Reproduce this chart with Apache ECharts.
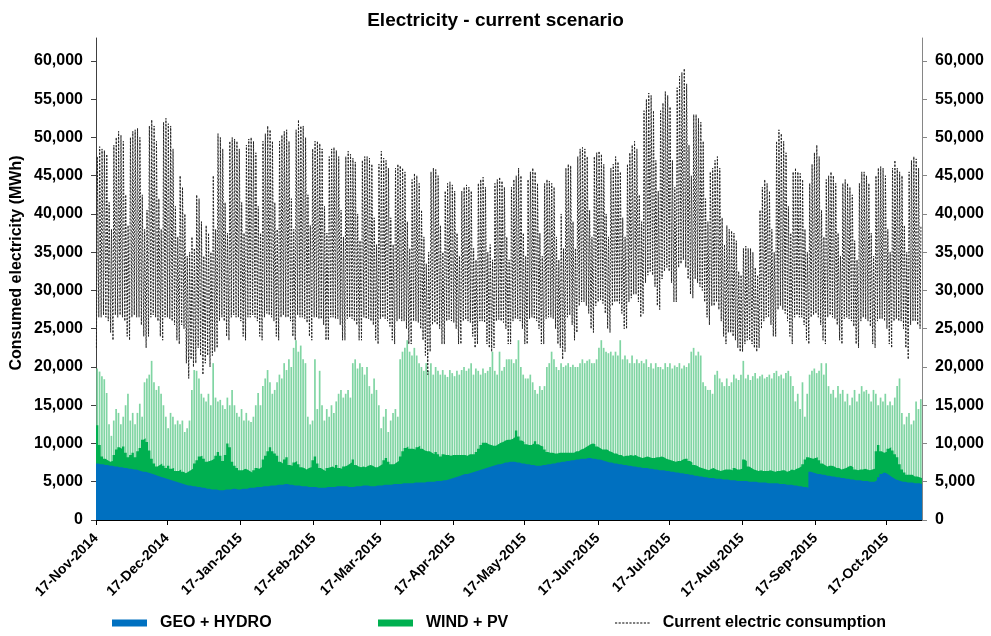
<!DOCTYPE html>
<html>
<head>
<meta charset="utf-8">
<script src="https://cdn.jsdelivr.net/npm/echarts@6/dist/echarts.min.js"></script>
<style>
html,body{margin:0;padding:0;background:#fff;}
#chart{width:991px;height:636px;}
</style>
</head>
<body>
<div id="chart"></div>
<script>
// ---------------- DATA ----------------
const chartTitle = 'Electricity - current scenario';
const yAxisTitle = 'Consumed electricity (MWh)';
const seriesNames = ['GEO + HYDRO', 'WIND + PV', 'Current electric consumption'];
const firstDay = '17-Nov-2014';
const dayCount = 349; // 17-Nov-2014 .. 31-Oct-2015
const xTickLabels = ['17-Nov-2014','17-Dec-2014','17-Jan-2015','17-Feb-2015','17-Mar-2015','17-Apr-2015',
  '17-May-2015','17-Jun-2015','17-Jul-2015','17-Aug-2015','17-Sep-2015','17-Oct-2015'];
const yTickValues = [0,5000,10000,15000,20000,25000,30000,35000,40000,45000,50000,55000,60000];
const yAxisMax = 63000;

// daily values in thousand MWh, one row per week (Mon..Sun)
// daily peak of current electric consumption
const consumptionPeak = [
 47.5,48.8,48.5,48.3,47.8,41.5,38.0,
 49.0,50.0,50.8,50.3,49.5,42.5,38.5,
 50.0,50.8,51.0,51.2,50.0,42.5,38.0,
 40.5,51.5,52.3,51.5,49.5,42.0,38.0,
 52.0,52.5,51.8,51.5,48.5,41.0,37.0,
 45.0,43.5,40.0,34.5,35.0,37.0,35.5,
 42.5,42.0,39.0,34.5,38.5,37.5,35.0,
 45.0,38.0,50.5,50.0,48.5,41.5,37.5,
 49.5,50.0,49.8,49.5,48.5,41.5,37.5,
 49.0,49.8,50.0,49.5,48.0,41.0,37.5,
 49.5,50.5,51.5,51.0,49.5,41.5,38.0,
 49.5,50.3,50.8,51.0,49.5,42.0,38.0,
 51.0,52.3,51.5,51.5,50.0,42.5,38.5,
 48.5,49.5,49.5,49.2,48.5,41.0,37.5,
 47.5,48.5,48.7,48.3,47.5,40.5,37.0,
 47.5,48.2,47.8,47.3,46.8,40.0,36.5,
 47.0,47.5,47.5,47.3,46.5,39.5,36.0,
 46.5,48.2,47.3,47.0,46.0,39.5,36.0,
 46.0,46.5,46.3,46.0,45.5,39.0,35.5,
 44.5,45.3,45.0,44.0,40.5,37.0,33.5,
 35.0,45.5,46.0,45.8,45.0,38.5,35.0,
 43.0,44.0,44.2,43.8,43.0,37.5,34.5,
 43.0,43.5,43.8,43.5,43.0,35.5,34.0,
 44.0,44.5,44.8,43.5,35.0,36.0,34.0,
 44.0,44.5,44.8,44.3,43.5,37.0,34.0,
 43.5,44.5,45.0,46.0,45.0,37.5,34.5,
 44.5,45.5,46.0,45.5,44.0,37.5,34.5,
 44.0,44.5,44.3,44.0,43.5,37.0,34.0,
 40.0,35.5,46.0,46.5,46.3,39.0,35.5,
 47.5,48.5,48.7,48.5,47.5,40.5,37.0,
 47.5,48.0,48.2,47.8,46.5,40.0,37.0,
 46.0,46.5,47.5,46.8,45.5,39.5,37.0,
 46.5,48.0,49.0,49.5,48.5,42.5,39.0,
 53.5,55.0,55.8,55.5,53.5,47.0,43.0,
 53.5,54.5,56.0,55.5,54.0,47.0,43.5,
 56.5,58.0,58.5,59.0,57.0,49.0,45.0,
 53.0,53.0,52.5,52.0,49.5,42.0,39.0,
 45.5,46.0,47.0,47.5,46.0,39.5,36.0,
 38.5,38.0,37.8,37.5,36.5,32.5,32.0,
 35.5,35.8,35.5,35.5,35.0,33.0,32.0,
 40.5,43.5,44.5,44.0,43.0,38.0,35.0,
 49.5,51.0,50.5,49.5,48.0,41.0,37.5,
 45.5,46.0,45.5,45.3,44.5,38.0,35.0,
 44.0,46.5,48.0,49.0,47.5,40.5,37.0,
 44.5,45.0,45.5,45.0,44.0,37.5,34.5,
 44.0,44.5,44.0,43.5,42.5,36.5,34.0,
 44.0,45.5,45.5,45.0,44.0,37.5,34.5,
 45.0,46.0,46.2,46.0,45.0,38.0,35.0,
 46.0,47.0,46.0,45.5,45.0,38.5,35.0,
 45.5,47.0,47.5,47.2,46.0,38.5
];
// night minimum of current electric consumption
const consumptionLow = [
 22.5,26.5,26.5,26.8,26.5,26.0,24.5,
 23.5,26.8,26.5,26.8,26.5,26.0,24.0,
 23.5,26.5,26.8,26.5,26.5,25.5,24.0,
 22.5,24.0,26.5,26.8,26.5,26.0,24.0,
 23.5,26.5,26.5,26.3,26.0,25.5,23.5,
 23.0,25.5,25.0,20.5,18.5,21.0,20.0,
 20.5,22.5,21.5,19.0,20.5,21.5,20.0,
 21.5,22.0,22.5,26.0,26.5,26.0,24.0,
 23.5,26.5,26.8,26.5,26.5,26.0,24.0,
 23.5,26.5,26.5,26.8,26.5,26.0,24.0,
 23.5,26.5,27.0,26.8,26.5,26.0,24.0,
 23.5,26.5,26.8,26.5,26.5,26.0,24.0,
 23.5,26.8,26.5,26.5,26.3,25.8,24.0,
 23.5,26.5,26.5,26.3,26.3,25.5,23.5,
 23.5,26.5,26.5,26.3,26.3,25.5,23.5,
 23.5,26.3,26.5,26.3,26.0,25.5,23.5,
 23.5,26.5,26.3,26.3,26.0,25.5,23.5,
 23.0,26.3,26.5,26.3,26.0,25.3,23.5,
 23.0,26.0,26.3,26.0,26.0,25.0,23.0,
 23.0,26.0,26.0,25.8,25.0,23.5,21.5,
 19.0,22.0,25.5,25.8,25.5,25.0,23.0,
 23.0,26.0,26.2,26.0,25.8,25.0,23.0,
 23.0,26.0,26.2,26.0,25.8,24.0,22.5,
 23.0,26.0,26.0,25.8,23.0,22.5,22.0,
 22.5,26.0,26.2,26.0,25.8,25.0,23.0,
 23.0,26.0,26.3,26.3,26.0,25.0,23.0,
 23.0,26.3,26.5,26.3,26.0,25.0,23.0,
 23.0,26.3,26.5,26.5,26.3,25.0,23.0,
 22.5,21.0,22.0,26.5,26.8,25.5,23.5,
 24.5,28.0,28.5,28.5,28.0,27.0,25.0,
 24.5,28.0,28.5,28.8,28.3,27.0,25.0,
 24.5,28.0,28.5,28.5,28.3,27.0,25.0,
 25.0,28.5,29.0,29.5,29.5,28.5,26.5,
 27.0,31.0,32.0,32.5,32.0,30.5,28.0,
 27.5,31.5,32.5,33.0,32.5,31.0,28.5,
 28.5,33.0,33.5,34.0,33.0,31.5,29.5,
 29.0,31.5,31.0,30.5,30.0,28.5,26.5,
 25.5,28.0,28.0,28.5,27.5,26.0,24.0,
 23.0,24.5,24.5,24.0,23.5,22.5,22.0,
 22.0,23.0,23.5,23.5,23.0,22.5,22.0,
 22.5,25.0,26.0,26.5,26.5,25.5,24.0,
 24.0,27.5,28.0,27.5,27.0,26.0,24.0,
 23.0,26.5,26.8,26.5,26.5,25.5,23.5,
 23.0,26.5,26.8,27.0,26.5,25.5,23.5,
 23.0,26.5,26.8,26.5,26.3,25.5,23.5,
 23.0,26.3,26.5,26.3,26.0,25.3,23.0,
 22.5,26.0,26.5,26.3,26.0,25.3,23.0,
 22.5,26.0,26.3,26.3,26.0,25.0,23.0,
 22.5,26.0,26.3,26.0,26.0,25.0,22.5,
 21.0,25.5,26.0,26.0,25.5,25.0
];
// GEO + HYDRO daily level
const geoHydro = [
 7.4,7.3,7.3,7.2,7.2,7.1,7.1,
 7.0,7.0,6.9,6.9,6.8,6.8,6.7,
 6.7,6.6,6.6,6.5,6.4,6.3,6.3,
 6.2,6.1,6.0,5.9,5.8,5.7,5.6,
 5.5,5.4,5.3,5.2,5.1,5.0,4.9,
 4.8,4.7,4.6,4.5,4.5,4.4,4.4,
 4.3,4.3,4.2,4.2,4.1,4.1,4.0,
 4.0,4.0,3.9,3.9,3.9,4.0,4.0,
 4.0,4.1,4.1,4.0,4.0,4.1,4.1,
 4.1,4.2,4.2,4.2,4.3,4.3,4.3,
 4.4,4.4,4.4,4.5,4.5,4.5,4.6,
 4.6,4.6,4.7,4.7,4.6,4.6,4.5,
 4.5,4.5,4.4,4.4,4.4,4.3,4.3,
 4.3,4.3,4.2,4.2,4.2,4.2,4.3,
 4.3,4.3,4.3,4.4,4.4,4.4,4.4,
 4.4,4.3,4.3,4.3,4.4,4.4,4.4,
 4.5,4.5,4.5,4.4,4.4,4.4,4.5,
 4.5,4.5,4.6,4.6,4.6,4.6,4.7,
 4.7,4.7,4.7,4.8,4.8,4.8,4.8,
 4.8,4.9,4.9,4.9,4.9,4.9,5.0,
 5.0,5.0,5.0,5.1,5.1,5.1,5.2,
 5.2,5.3,5.4,5.5,5.6,5.7,5.8,
 5.9,6.0,6.0,6.1,6.2,6.3,6.4,
 6.5,6.6,6.7,6.8,6.9,7.0,7.1,
 7.2,7.3,7.3,7.4,7.5,7.5,7.6,
 7.6,7.6,7.5,7.5,7.4,7.4,7.3,
 7.3,7.2,7.2,7.1,7.1,7.1,7.2,
 7.2,7.3,7.3,7.4,7.4,7.5,7.5,
 7.6,7.6,7.7,7.7,7.8,7.8,7.9,
 7.9,8.0,8.0,8.0,8.1,8.1,8.0,
 8.0,7.9,7.9,7.8,7.7,7.6,7.5,
 7.5,7.4,7.4,7.3,7.3,7.2,7.2,
 7.1,7.1,7.0,7.0,6.9,6.9,6.8,
 6.8,6.8,6.7,6.7,6.6,6.6,6.5,
 6.5,6.5,6.4,6.4,6.3,6.3,6.2,
 6.2,6.1,6.1,6.0,6.0,5.9,5.9,
 5.8,5.8,5.7,5.7,5.6,5.6,5.5,
 5.5,5.5,5.4,5.4,5.4,5.3,5.3,
 5.3,5.2,5.2,5.2,5.1,5.1,5.1,
 5.1,5.1,5.0,5.0,5.0,5.0,4.9,
 4.9,4.9,4.9,4.8,4.8,4.8,4.8,
 4.8,4.7,4.7,4.7,4.6,4.6,4.6,
 4.5,4.5,4.4,4.4,4.3,4.3,4.2,
 6.3,6.2,6.1,6.0,6.0,5.9,5.9,
 5.8,5.8,5.7,5.7,5.6,5.6,5.5,
 5.5,5.4,5.4,5.3,5.3,5.2,5.2,
 5.2,5.1,5.1,5.1,5.0,5.0,5.0,
 5.2,5.6,6.0,6.2,6.1,5.9,5.7,
 5.5,5.3,5.2,5.1,5.0,5.0,4.9,
 4.9,4.9,4.8,4.8,4.8,4.7
];
// WIND + PV at night (wind only)
const windPvNight = [
 5.0,2.5,1.0,0.8,0.6,0.5,0.6,
 1.5,2.2,2.6,2.4,2.8,2.0,1.5,
 1.8,2.2,1.6,2.5,3.0,4.2,4.4,
 4.0,3.0,2.0,1.5,1.2,1.5,1.8,
 1.6,1.4,1.8,1.5,1.7,1.4,1.5,
 1.8,1.6,1.5,1.8,2.0,2.3,3.0,
 3.5,4.0,4.2,3.8,3.5,3.6,3.8,
 4.0,4.4,5.0,4.5,3.8,4.5,6.0,
 5.5,3.5,3.0,2.8,2.5,2.4,2.6,
 2.5,2.2,2.0,2.3,2.5,2.4,2.6,
 3.5,4.0,4.6,5.0,4.5,4.2,3.8,
 3.0,2.8,3.2,3.5,2.6,2.5,3.0,
 3.2,2.8,2.5,2.4,2.2,2.5,2.6,
 3.5,4.0,3.2,2.6,2.4,2.2,2.5,
 2.6,2.7,2.5,2.8,2.4,2.3,2.6,
 2.7,3.0,3.2,3.6,2.8,2.6,2.5,
 2.5,2.4,2.6,2.8,2.7,2.5,2.4,
 2.6,2.8,3.2,3.5,3.0,2.7,2.6,
 2.8,3.0,3.6,4.2,4.6,4.8,4.5,
 4.5,4.3,4.6,4.8,4.4,4.2,4.0,
 4.0,3.8,3.6,3.8,3.5,3.2,3.4,
 3.3,3.2,3.0,3.0,2.9,2.8,2.7,
 2.6,2.5,2.4,2.5,2.4,2.3,2.5,
 2.8,3.2,3.4,3.3,3.0,2.8,2.6,
 2.5,2.6,2.8,2.8,2.9,3.0,2.9,
 3.0,3.2,4.2,3.4,3.0,2.8,2.6,
 2.5,2.6,2.8,3.2,2.8,2.6,2.4,
 2.0,1.6,1.5,1.4,1.3,1.2,1.3,
 1.2,1.2,1.1,1.1,1.0,1.0,1.1,
 1.1,1.2,1.3,1.5,1.6,1.8,2.0,
 1.9,1.7,1.5,1.4,1.5,1.6,1.5,
 1.4,1.3,1.3,1.2,1.2,1.1,1.2,
 1.3,1.4,1.4,1.5,1.4,1.3,1.3,
 1.4,1.5,1.5,1.4,1.5,1.6,1.7,
 1.8,1.7,1.6,1.5,1.5,1.4,1.4,
 1.5,1.6,1.8,2.0,2.0,1.8,1.6,
 1.4,1.3,1.2,1.1,1.1,1.0,1.0,
 1.2,1.3,1.2,1.1,1.0,1.2,1.3,
 1.3,1.4,1.3,1.6,1.5,1.5,1.6,
 2.8,2.6,2.0,1.8,1.6,1.5,1.5,
 1.6,1.5,1.5,1.6,1.7,1.6,1.5,
 1.6,1.7,1.8,1.8,1.7,1.8,2.0,
 2.0,2.2,2.4,2.6,3.0,3.6,4.0,
 1.8,1.8,2.0,2.2,1.8,1.5,1.3,
 1.2,1.3,1.4,1.3,1.2,1.2,1.1,
 1.2,1.4,1.6,1.8,1.6,1.4,1.3,
 1.4,1.5,1.6,1.5,1.5,1.6,1.7,
 3.8,4.2,3.0,2.6,2.8,3.4,3.8,
 3.6,3.3,3.0,2.2,1.6,1.2,1.0,
 1.0,1.0,0.9,0.9,0.8,0.8
];
// WIND + PV at the midday peak
const windPvMidday = [
 12.4,12.1,11.5,11.2,9.4,5.4,3.9,
 6.0,7.5,7.1,5.6,6.7,8.2,9.8,
 6.3,7.4,5.9,7.5,8.8,7.2,11.7,
 12.3,12.9,14.8,12.1,11.2,11.8,10.9,
 9.5,8.1,6.7,8.8,8.4,7.5,8.1,
 7.7,8.3,6.9,7.5,8.5,12.6,15.2,
 15.2,14.2,12.3,11.8,11.4,12.4,11.0,
 16.5,12.0,11.6,11.8,11.1,10.5,12.0,
 11.0,12.9,10.9,10.0,9.5,10.4,8.9,
 9.9,8.8,8.6,9.3,10.7,12.3,10.7,
 13.1,14.1,15.2,13.5,12.0,12.5,13.4,
 14.4,13.9,15.8,14.9,16.4,15.4,18.0,
 19.0,17.5,18.4,16.6,16.1,9.2,8.2,
 8.7,16.7,10.3,15.3,10.8,8.8,10.2,
 9.2,10.7,9.7,11.1,12.1,12.6,11.6,
 12.1,12.7,11.7,16.2,16.6,15.4,16.1,
 15.5,14.5,15.5,13.1,12.1,14.1,12.5,
 10.5,7.5,8.9,9.9,6.9,8.4,9.3,
 9.8,8.8,16.3,17.2,17.7,18.7,17.2,
 16.7,17.6,16.6,15.6,15.1,14.6,15.5,
 14.5,15.5,14.0,14.9,14.4,13.9,14.4,
 13.8,13.4,14.2,13.7,13.2,13.8,13.2,
 13.7,14.0,13.5,13.7,14.3,12.7,13.4,
 13.0,12.4,13.1,12.4,12.6,13.0,14.9,
 12.3,11.7,14.7,12.1,12.5,13.5,13.4,
 13.4,12.9,13.5,16.0,12.6,11.6,11.2,
 11.2,11.8,10.8,9.9,9.4,10.4,9.8,
 10.3,12.7,13.2,14.6,13.6,12.5,12.1,
 12.9,12.4,12.5,12.8,12.2,12.5,12.1,
 12.1,12.5,13.0,12.5,12.7,12.9,12.5,
 12.5,13.1,14.6,15.7,14.8,14.4,14.3,
 14.5,14.1,14.6,14.2,16.2,13.8,14.3,
 13.9,13.4,14.5,13.5,14.1,13.6,14.0,
 13.7,14.2,13.3,13.8,13.2,13.9,13.5,
 13.5,13.2,14.1,13.6,14.2,13.5,14.0,
 13.8,14.4,13.7,14.2,14.0,14.6,16.1,
 16.7,15.7,16.3,15.8,12.4,11.9,11.5,
 11.5,11.0,13.6,14.1,13.1,12.7,12.2,
 13.2,12.3,12.8,13.8,13.4,13.2,13.9,
 15.7,13.4,14.0,13.3,13.8,14.2,13.6,
 13.9,14.1,13.6,13.9,14.2,13.7,14.4,
 14.7,14.1,14.3,13.8,14.6,14.9,14.2,
 13.0,11.0,12.1,10.1,13.7,9.2,12.3,
 12.7,13.3,13.7,13.2,13.5,14.6,13.1,
 14.7,11.7,10.8,11.3,10.4,11.9,11.0,
 11.5,10.1,11.1,9.7,10.7,11.8,10.3,
 11.3,12.4,11.7,11.9,11.5,10.5,12.0,
 11.3,9.4,10.0,9.3,10.4,9.1,9.8,
 9.5,10.7,12.3,13.4,9.0,7.5,8.6,
 9.1,7.6,8.2,10.7,9.7,11.1
];

// ---------------- BUILD ----------------
const MONTHS = ['Jan','Feb','Mar','Apr','May','Jun','Jul','Aug','Sep','Oct','Nov','Dec'];
function parseDay(s) {
  const p = s.split('-');
  return Date.UTC(+p[2], MONTHS.indexOf(p[1]), +p[0]);
}
const t0 = parseDay(firstDay);
const xTickDays = xTickLabels.map(l => Math.round((parseDay(l) - t0) / 86400000));
const K = 1000; // thousand MWh -> MWh

const blueData = [], windBaseData = [], windPeakData = [], lineData = [];
for (let d = 0; d < dayCount; d++) {
  const g = geoHydro[d] * K;
  const wn = g + windPvNight[d] * K;   // stacked on GEO + HYDRO
  const wp = g + windPvMidday[d] * K;
  blueData.push([d, g], [d + 0.99, g]);
  windBaseData.push([d, wn], [d + 0.99, wn]);
  windPeakData.push([d + 0.5, wp]);
  lineData.push([d + 0.18, consumptionLow[d] * K], [d + 0.55, consumptionPeak[d] * K]);
}

function fmt(v) { return String(v).replace(/\B(?=(\d{3})+(?!\d))/g, ','); }
let dashIcon = 'path://';
for (let i = 0; i < 10; i++) dashIcon += 'M' + (i * 3.6) + ',0h2.2v1h-2.2z';

const FONT = '"Liberation Sans", Arial, sans-serif';
const yAxisCommon = {
  type: 'value', min: 0, max: yAxisMax, splitLine: { show: false },
  axisTick: { show: true, inside: false, length: 5, customValues: yTickValues, lineStyle: { color: '#404040' } },
  axisLabel: { customValues: yTickValues, formatter: fmt, color: '#000', fontFamily: FONT, fontWeight: 'bold', fontSize: 16, margin: 13 }
};
const legendText = { fontFamily: FONT, fontWeight: 'bold', fontSize: 16, color: '#000', padding: [0, 0, 0, 8] };

const chart = echarts.init(document.getElementById('chart'), null, { renderer: 'canvas' });
chart.setOption({
  animation: false,
  backgroundColor: '#fff',
  title: { text: chartTitle, left: 'center', top: 6, textStyle: { fontFamily: FONT, fontWeight: 'bold', fontSize: 19, color: '#000' } },
  grid: { left: 96, right: 69, top: 38, bottom: 116, containLabel: false, outerBoundsMode: 'none' },
  xAxis: {
    type: 'value', min: 0, max: dayCount, splitLine: { show: false },
    axisLine: { onZero: false, lineStyle: { color: '#000', width: 1 } },
    axisTick: { show: true, length: 5, customValues: xTickDays, lineStyle: { color: '#000' } },
    axisLabel: {
      customValues: xTickDays, rotate: 45, margin: 16,
      formatter: v => { const i = xTickDays.indexOf(Math.round(v)); return i >= 0 ? xTickLabels[i] : ''; },
      color: '#000', fontFamily: FONT, fontWeight: 'bold', fontSize: 14
    }
  },
  yAxis: [
    Object.assign({}, yAxisCommon, { position: 'left', axisLine: { show: true, lineStyle: { color: '#404040' } } }),
    Object.assign({}, yAxisCommon, { position: 'right', axisLine: { show: true, lineStyle: { color: '#868686' } },
      axisTick: Object.assign({}, yAxisCommon.axisTick, { lineStyle: { color: '#868686' } }) })
  ],
  legend: [
    { data: [seriesNames[0]], left: 112, top: 615, padding: 0, icon: 'rect', itemWidth: 35, itemHeight: 7, selectedMode: false, textStyle: legendText },
    { data: [seriesNames[1]], left: 378, top: 615, padding: 0, icon: 'rect', itemWidth: 35, itemHeight: 7, selectedMode: false, textStyle: legendText },
    { data: [seriesNames[2]], left: 615, top: 615, padding: 0, icon: dashIcon, itemWidth: 35, itemHeight: 1, selectedMode: false,
      itemStyle: { color: '#000' }, textStyle: legendText }
  ],
  graphic: [{
    type: 'text', x: 17, y: 263, rotation: Math.PI / 2,
    style: { text: yAxisTitle, font: 'bold 16px ' + FONT, fill: '#000', align: 'center', verticalAlign: 'middle' }
  }],
  series: [
    { name: seriesNames[0], type: 'line', data: blueData, symbol: 'none', z: 4, color: '#0070C0',
      lineStyle: { width: 0 }, areaStyle: { color: '#0070C0', opacity: 1 }, emphasis: { disabled: true } },
    { name: seriesNames[1], type: 'line', data: windBaseData, symbol: 'none', z: 3, color: '#00B050',
      lineStyle: { width: 0 }, areaStyle: { color: '#00B050', opacity: 1 }, emphasis: { disabled: true } },
    { name: seriesNames[1] + ' (midday)', type: 'bar', data: windPeakData, z: 2, barWidth: 1.7, color: '#80D5A3',
      itemStyle: { color: '#80D5A3' }, emphasis: { disabled: true }, large: false },
    { name: seriesNames[2], type: 'line', data: lineData, symbol: 'none', z: 5, color: '#000',
      lineStyle: { color: '#222', width: 1, type: [2, 1.5] }, emphasis: { disabled: true } }
  ]
});
</script>
</body>
</html>
